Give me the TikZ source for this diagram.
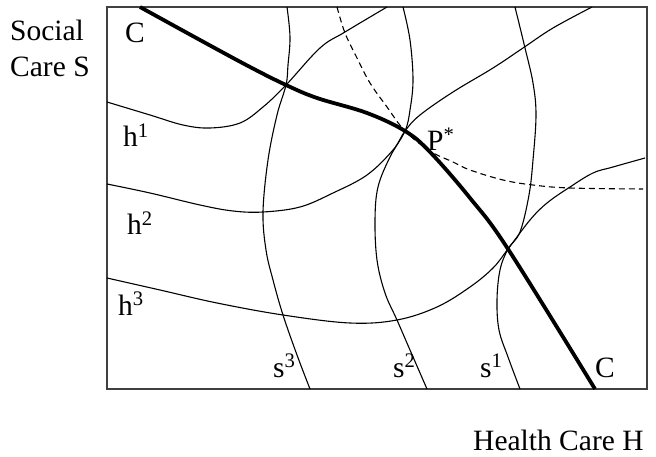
\documentclass[tikz,border=0pt]{standalone}
\usepackage{fontspec}
\setmainfont{Liberation Serif}
\usepackage{tikz}

\begin{document}
\begin{tikzpicture}[
        x=1pt, y=-1pt,
        lbl/.style={anchor=base west, inner sep=0pt, font=\fontsize{29.5}{34}\selectfont},
        iso/.style={line width=1.1pt, smooth, tension=0.6},
        contract/.style={line width=3.8pt, smooth, tension=0.6},
        frame/.style={draw=black!75, line width=1.3pt}
    ]
        \useasboundingbox (0,0) rectangle (656,457);
        \draw[frame] (107,7) rectangle (647,389);

        % health care indifference curves
        \draw[iso] plot coordinates {(107,102) (150,115) (183,125) (210,128) (240,123) (263,107) (286,85) (320,48) (345,32) (387,7)};
        \draw[iso] plot coordinates {(107,184) (150,193) (200,205) (233,211) (263,212) (300,207) (333,193) (367,175) (393,150) (405,131) (420,115) (453,92) (493,68) (523,48) (553,28) (592,7)};
        \draw[iso] plot coordinates {(107,278) (160,290) (217,303) (283,315) (350,323) (397,320) (437,307) (470,287) (493,268) (508,249) (530,220) (547,203) (570,187) (593,173) (613,167) (645,158)};

        % social care indifference curves
        \draw[iso] plot coordinates {(287,7) (290,37) (288,65) (286,85) (277,115) (268,160) (263,212) (266,250) (273,280) (283,315) (297,355) (310,389)};
        \draw[iso] plot coordinates {(403,7) (410,40) (413,80) (410,110) (405,131) (390,157) (378,187) (375,220) (377,260) (385,293) (397,320) (410,350) (427,389)};
        \draw[iso] plot coordinates {(515,7) (525,48) (533,83) (536,115) (533,160) (529,195) (520,232) (508,249) (500,270) (497,300) (499,330) (508,357) (520,389)};

        % dashed locus
        \draw[iso, dashed, dash pattern=on 6pt off 4pt] plot coordinates {(337,7) (345,33) (357,58) (370,83) (387,107) (405,131) (430,151) (453,162) (470,170) (503,180) (533,185) (570,188) (643,189)};

        % contract curve
        \draw[contract] plot coordinates {(140,7) (200,40) (250,67) (286,85) (317,98) (367,113) (405,131) (430,152) (470,198) (508,249) (595,389)};

        \node[lbl] (social) at (10,41) {Social};
        \node[lbl] (care) at (10,77) {Care S};
        \node[lbl] (ctop) at (125,43) {C};
        \node[lbl] (h1) at (123,147) {h\textsuperscript{1}};
        \node[lbl] (h2) at (127,235) {h\textsuperscript{2}};
        \node[lbl] (h3) at (118,315) {h\textsuperscript{3}};
        \node[lbl] (s3) at (273,377) {s\textsuperscript{3}};
        \node[lbl] (s2) at (393,377) {s\textsuperscript{2}};
        \node[lbl] (s1) at (480,377) {s\textsuperscript{1}};
        \node[lbl] (cbot) at (595,377) {C};
        \node[lbl] (pstar) at (427,151) {P\textsuperscript{*}};
        \node[lbl] (health) at (473,450) {Health Care H};
    \end{tikzpicture}
\end{document}
